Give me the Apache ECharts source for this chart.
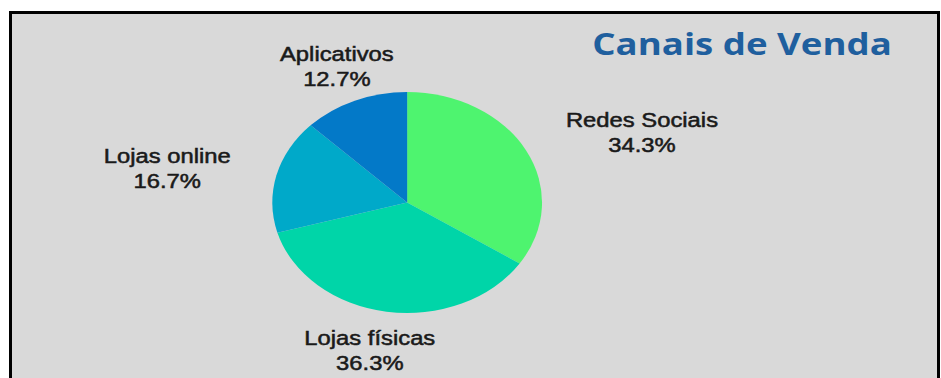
<!DOCTYPE html>
<html>
<head>
<meta charset="utf-8">
<script src="https://cdn.jsdelivr.net/npm/echarts@6/dist/echarts.min.js"></script>
<style>
  html, body { margin: 0; padding: 0; background: #fff; width: 941px; height: 378px; overflow: hidden; }
  #frame {
    position: absolute; left: 9px; top: 11px; width: 925px; height: 370px;
    background: #d9d9d9; border: 3px solid #000; border-bottom: none;
  }
  /* the chart is laid out narrower and widened horizontally */
  #chart {
    position: absolute; left: 0; top: 0; width: 771px; height: 378px;
    transform: scaleX(1.2205); transform-origin: 0 0;
  }
</style>
</head>
<body>
<div id="frame"></div>
<div id="chart"></div>
<script>
// Sales channels and their share of sales (%)
const categories = ['Redes Sociais', 'Lojas físicas', 'Lojas online', 'Aplicativos'];
const shares = [34.3, 36.3, 16.7, 12.7];

const palette = ['#4ef46f', '#00d5a8', '#00a9c9', '#0379c8'];
// label centres, in chart coordinates, per slice
const labelSpots = [[526, 133], [303, 351], [137, 169], [276, 67]];

const chart = echarts.init(document.getElementById('chart'), null, { renderer: 'svg' });

chart.setOption({
  animation: false,
  backgroundColor: 'transparent',
  graphic: [{
    type: 'text',
    x: 608, y: 43,
    style: {
      text: 'Canais de Venda',
      fill: '#1f5f9e',
      font: 'bold 30px "Open Sans"',
      align: 'center',
      verticalAlign: 'middle'
    }
  }],
  series: [{
    type: 'pie',
    center: [333.6, 202.5],
    radius: 110.5,
    startAngle: 90,
    clockwise: true,
    emphasis: { disabled: true },
    itemStyle: { borderWidth: 0 },
    labelLine: { show: false },
    label: {
      show: true,
      position: 'outside',
      formatter: p => p.name + '\n' + p.value.toFixed(1) + '%',
      fontFamily: '"Liberation Sans", Arial, sans-serif',
      fontSize: 19.5,
      lineHeight: 25,
      color: '#1a1a1a',
      textBorderColor: '#1a1a1a',
      textBorderWidth: 0.5,
      align: 'center'
    },
    labelLayout: p => ({
      x: labelSpots[p.dataIndex][0],
      y: labelSpots[p.dataIndex][1],
      align: 'center',
      verticalAlign: 'middle'
    }),
    data: categories.map((name, i) => ({
      name: name,
      value: shares[i],
      itemStyle: { color: palette[i] }
    }))
  }]
});
</script>
</body>
</html>
